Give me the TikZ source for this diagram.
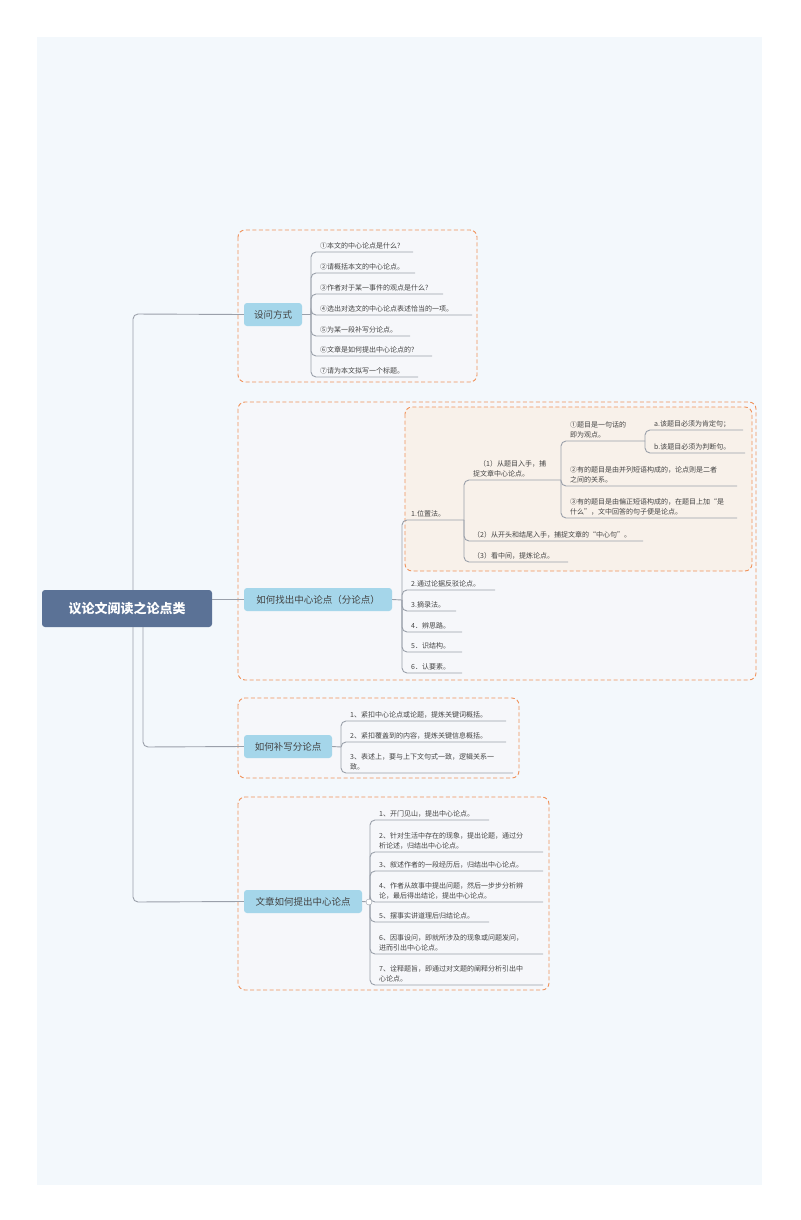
\documentclass[tikz,border=0pt]{standalone}
\usepackage{fontspec}
\setmainfont{Noto Sans CJK SC}
\definecolor{lineg}{HTML}{9AA0AA}
\definecolor{dorange}{HTML}{F0915A}
\definecolor{boxf}{HTML}{F6F7FA}
\definecolor{brblue}{HTML}{A5D6EA}
\definecolor{textg}{HTML}{444444}
\definecolor{bgp}{HTML}{F3F8FC}
\definecolor{rootc}{HTML}{5B7296}
\definecolor{beige}{HTML}{F8F1EA}
\begin{document}
\begin{tikzpicture}[x=1pt,y=-1pt,
  ln/.style={draw=lineg,line width=0.9pt,rounded corners=5pt},
  dbox/.style={draw=dorange,dash pattern=on 4pt off 2.5pt,line width=0.9pt,rounded corners=7pt,fill=boxf},
  br/.style={fill=brblue,rounded corners=3pt,text=textg,font=\fontsize{9.5}{11}\selectfont,inner sep=0pt},
  lf/.style={anchor=south west,inner sep=0pt,align=left,text=textg,font=\fontsize{7}{10.5}\selectfont}]
\useasboundingbox (0,0) rectangle (800,1220);
\fill[white] (0,0) rectangle (800,1220);
\fill[bgp] (37,37) rectangle (762,1185);
% dashed boxes
\draw[dbox] (238,230) rectangle (477,382);
\draw[dbox] (238,402) rectangle (756,680);
\draw[dbox,fill=beige] (405,407) rectangle (752,571);
\draw[dbox] (238,698) rectangle (519,778);
\draw[dbox] (238,797) rectangle (549,990);
% root
\node[fill=rootc,rounded corners=3pt,minimum width=170pt,minimum height=37pt,text=white,font=\bfseries\fontsize{13}{15}\selectfont,inner sep=0pt] (root) at (127,608.5) {议论文阅读之论点类};
\node[br,minimum width=58pt,minimum height=23pt] (b1) at (273,314.5) {设问方式};
\node[br,minimum width=148pt,minimum height=23pt] (b2) at (318,599.5) {如何找出中心论点（分论点）};
\node[br,minimum width=88pt,minimum height=23pt] (b3) at (288,746.5) {如何补写分论点};
\node[br,minimum width=118pt,minimum height=23pt] (b4) at (303,901.5) {文章如何提出中心论点};
% trunk
\draw[ln] (root.north -| 133,0) -- (133,314) -- (b1.west);
\draw[ln] (root.south -| 133,0) -- (133,902) -- (b4.west);
\draw[ln] (root.south -| 143,0) -- (143,747) -- (b3.west);
\draw[ln] (root.east |- b2.west) -- (b2.west);
% leaf macro: #1 bracket x, #2 parent y, #3 underline y, #4 end x, #5 name, #6 text
\def\leaf#1#2#3#4#5#6{\node[lf] (#5) at (#1+9,#3-2.5) {#6};
  \draw[ln] (#1,#2) -- (#1,#3) -- (#4,#3);}
% section 1
\draw[ln] (b1.east) -- (311,314.5);
\leaf{311}{314}{252}{413}{s1a}{①本文的中心论点是什么?}
\leaf{311}{314}{273}{415}{s1b}{②请概括本文的中心论点。}
\leaf{311}{314}{294}{443}{s1c}{③作者对于某一事件的观点是什么?}
\leaf{311}{314}{315}{472}{s1d}{④选出对选文的中心论点表述恰当的一项。}
\leaf{311}{314}{336}{410}{s1e}{⑤为某一段补写分论点。}
\leaf{311}{314}{356}{432}{s1f}{⑥文章是如何提出中心论点的?}
\leaf{311}{314}{377}{418}{s1g}{⑦请为本文拟写一个标题。}
% section 2
\draw[ln] (b2.east) -- (402,600);
\leaf{402}{600}{520}{464}{p1}{1.位置法。}
\leaf{402}{600}{590}{495}{p2}{2.通过论据反驳论点。}
\leaf{402}{600}{611}{456}{p3}{3.摘录法。}
\leaf{402}{600}{632}{462}{p4}{4．辨思路。}
\leaf{402}{600}{652}{462}{p5}{5．识结构。}
\leaf{402}{600}{673}{462}{p6}{6．认要素。}
\leaf{464}{520}{480}{561}{q1}{\hspace{6pt}（1）从题目入手，捕\\捉文章中心论点。}
\leaf{464}{520}{541}{643}{q2}{（2）从开头和结尾入手，捕捉文章的“中心句”。}
\leaf{464}{520}{562}{568}{q3}{（3）看中间，提炼论点。}
\leaf{561}{480}{441}{645}{r1}{①题目是一句话的\\即为观点。}
\leaf{561}{480}{486}{737}{r2}{②有的题目是由并列短语构成的，论点则是二者\\之间的关系。}
\leaf{561}{480}{518}{737}{r3}{③有的题目是由偏正短语构成的，在题目上加“是\\什么”，文中回答的句子便是论点。}
\leaf{645}{441}{430}{743}{t1}{a.该题目必须为肯定句；}
\leaf{645}{441}{453}{745}{t2}{b.该题目必须为判断句。}
% section 3
\draw[ln] (b3.east) -- (341,747);
\leaf{341}{747}{721}{506}{u1}{1、紧扣中心论点或论题，提炼关键词概括。}
\leaf{341}{747}{742}{506}{u2}{2、紧扣覆盖到的内容，提炼关键信息概括。}
\leaf{341}{747}{773}{513}{u3}{3、表述上，要与上下文句式一致，逻辑关系一\\致。}
% section 4
\draw[ln] (b4.east) -- (370,902);
\leaf{370}{902}{820}{489}{v1}{1、开门见山，提出中心论点。}
\leaf{370}{902}{852}{543}{v2}{2、针对生活中存在的现象，提出论题，通过分\\析论述，归结出中心论点。}
\leaf{370}{902}{871}{543}{v3}{3、叙述作者的一段经历后，归结出中心论点。}
\leaf{370}{902}{902}{543}{v4}{4、作者从故事中提出问题，然后一步步分析辨\\论，最后得出结论，提出中心论点。}
\leaf{370}{902}{922}{489}{v5}{5、摆事实讲道理后归结论点。}
\leaf{370}{902}{954}{543}{v6}{6、因事设问，即就所涉及的现象或问题发问，\\进而引出中心论点。}
\leaf{370}{902}{985}{543}{v7}{7、诠释题旨，即通过对文题的阐释分析引出中\\心论点。}
\node[circle,draw=lineg,fill=white,minimum size=6pt,inner sep=0pt] (knob) at (369,902) {};
\end{tikzpicture}
\end{document}
